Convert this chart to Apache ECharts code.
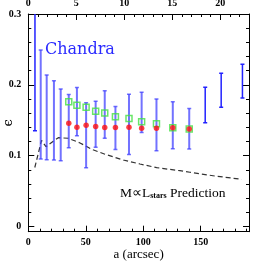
<!DOCTYPE html>
<html><head><meta charset="utf-8">
<script src="https://cdn.jsdelivr.net/npm/echarts@6/dist/echarts.min.js"></script>
<style>html,body{margin:0;padding:0;background:#fff}#c{width:262px;height:262px}</style>
</head><body><div id="c"></div>
<script>
// error bar positions (arcsec) and ranges
var barX   = [5.8, 10.8, 16.0, 22.3, 28.2, 35.2, 42.3, 50.3, 58.6, 66.5, 75.8, 87.6, 98.6, 111.5, 125.7, 140.0, 153.9, 167.8, 186.3];
var barHi  = [0.33, 0.2493, 0.2140, 0.2059, 0.1942, 0.1862, 0.1963, 0.1747, 0.1770, 0.1918, 0.1695, 0.1867, 0.1895, 0.1801, 0.1763, 0.1667, 0.1966, 0.2164, 0.2291];
var barLo  = [0.1353, 0.0953, 0.0944, 0.0939, 0.0929, 0.1113, 0.1281, 0.0829, 0.1119, 0.1246, 0.1088, 0.1017, 0.1328, 0.1071, 0.1099, 0.1095, 0.1466, 0.1684, 0.1815];
var barDark = [1, 0, 0, 0, 0, 0, 0, 0, 0, 0, 0, 0, 0, 0, 0, 0, 1, 1, 1];
// markers
var ptX    = [35.2, 42.3, 50.3, 58.6, 66.5, 75.8, 87.6, 98.6, 111.5, 125.7, 140.0];
var greenY = [0.1760, 0.1712, 0.1684, 0.1628, 0.1603, 0.1551, 0.1525, 0.1480, 0.1452, 0.1395, 0.1377];
var redY   = [0.1459, 0.1401, 0.1431, 0.1412, 0.1398, 0.1398, 0.1403, 0.1387, 0.1388, 0.1395, 0.1377];
// M ∝ L_stars prediction (dashed)
var predX  = [5.65, 11.5, 15.4, 20.6, 26.1, 34.8, 45.0, 55.1, 66.7, 82.6, 97.1, 111.7, 131.9, 140.6, 162.4, 185.6];
var predY  = [0.0833, 0.1215, 0.1127, 0.1190, 0.1254, 0.1246, 0.1180, 0.1091, 0.1020, 0.0939, 0.0883, 0.0831, 0.0788, 0.0766, 0.0713, 0.0667];
// tick labels
var yMajor = [0, 0.1, 0.2, 0.3];
var yMinor = [0.02,0.04,0.06,0.08,0.12,0.14,0.16,0.18,0.22,0.24,0.26,0.28];

var chart = echarts.init(document.getElementById('c'), null, {renderer:'canvas'});
var bars = barX.map(function(x,i){return [x, barLo[i], barHi[i], barDark[i]];});
var lblFont = {fontFamily:'Liberation Serif', fontWeight:'bold', fontSize:10, color:'#000'};
var lineStyle = {color:'#000', width:1};
function xAxisCfg(pos, max, interval, idx, showName){
  return {type:'value', position:pos, min:0, max:max, interval:interval, gridIndex:0,
    axisLine:{show:true, onZero:false, lineStyle:lineStyle},
    axisTick:{show:true, inside:true, length:6, lineStyle:lineStyle},
    minorTick:{show:true, splitNumber:5, length:3, lineStyle:lineStyle},
    splitLine:{show:false}, minorSplitLine:{show:false},
    axisLabel:Object.assign({margin:6, showMaxLabel:false}, lblFont),
    name: showName ? 'a (arcsec)' : '', nameLocation:'middle', nameGap:23, nameMoveOverlap:false,
    nameTextStyle:{fontFamily:'Liberation Serif', fontSize:13, color:'#000', verticalAlign:'middle'}
  };
}
function yAxisCfg(pos, major, showLabel, name){
  var vals = major ? yMajor : yMinor;
  return {type:'value', position:pos, min:-0.0073, max:0.3,
    axisLine:{show:major, onZero:false, lineStyle:lineStyle},
    axisTick:{show:true, inside:true, length: major?6:3, customValues:vals, lineStyle:lineStyle},
    splitLine:{show:false},
    axisLabel:Object.assign({show:showLabel, margin:7, customValues:yMajor,
      formatter:function(v){return String(+v.toFixed(2));}}, lblFont),
    name: name||'', nameLocation:'middle', nameGap:20, nameRotate:90, nameMoveOverlap:false,
    nameTextStyle:{fontFamily:'DejaVu Serif', fontSize:13, color:'#000', verticalAlign:'middle'}
  };
}
chart.setOption({
  animation:false,
  backgroundColor:'#fff',
  grid:{left:28.3, right:13, top:14, bottom:30.3, containLabel:false, outerBoundsMode:'none'},
  xAxis:[xAxisCfg('bottom',192,50,0,true), xAxisCfg('top',23,5,1,false)],
  yAxis:[yAxisCfg('left',true,true,'ϵ'), yAxisCfg('right',true,false), yAxisCfg('left',false,false), yAxisCfg('right',false,false)],
  series:[
    {type:'line', xAxisIndex:0, yAxisIndex:0, data:predX.map(function(x,i){return [x,predY[i]];}),
     symbol:'none', smooth:false, lineStyle:{color:'#333', width:1.2, type:[5,3]}, z:1},
    {type:'custom', xAxisIndex:0, yAxisIndex:0, data:bars, clip:true, z:2,
     renderItem:function(params, api){
       var x = api.value(0), lo = api.value(1), hi = api.value(2), dark = api.value(3);
       var p1 = api.coord([x, lo]), p2 = api.coord([x, hi]);
       var col = dark ? '#2222ff' : 'rgba(60,60,255,0.72)';
       var w = dark ? 1.5 : 2;
       var c = 2;
       var st = {stroke:col, lineWidth:w};
       return {type:'group', children:[
         {type:'line', shape:{x1:p1[0],y1:p1[1],x2:p2[0],y2:p2[1]}, style:st},
         {type:'line', shape:{x1:p1[0]-c,y1:p1[1],x2:p1[0]+c,y2:p1[1]}, style:{stroke:col, lineWidth:1.5}},
         {type:'line', shape:{x1:p2[0]-c,y1:p2[1],x2:p2[0]+c,y2:p2[1]}, style:{stroke:col, lineWidth:1.5}}
       ]};
     },
     encode:{x:0, y:[1,2]}},
    {type:'scatter', xAxisIndex:0, yAxisIndex:0, data:ptX.map(function(x,i){return [x,greenY[i]];}),
     symbol:'rect', symbolSize:6, itemStyle:{color:'rgba(0,0,0,0)', borderColor:'#44e044', borderWidth:1.5}, z:3},
    {type:'scatter', xAxisIndex:0, yAxisIndex:0, data:ptX.map(function(x,i){return [x,redY[i]];}),
     symbol:'circle', symbolSize:5.5, itemStyle:{color:'#ff1010'}, z:4}
  ],
  graphic:[
    {type:'text', left:45, top:42, style:{text:'Chandra', font:'16px "DejaVu Serif"', fill:'#2a2aff'}},
    {type:'text', left:120, top:186, style:{
      text:'{a|M∝L}{s|stars}{a| Prediction}',
      rich:{a:{fontFamily:'Liberation Serif', fontSize:13.5, fill:'#000', verticalAlign:'bottom', lineHeight:17},
            s:{fontFamily:'Liberation Serif', fontSize:8, fontWeight:'bold', fill:'#000', verticalAlign:'bottom', lineHeight:13}}
    }}
  ]
});
</script></body></html>
